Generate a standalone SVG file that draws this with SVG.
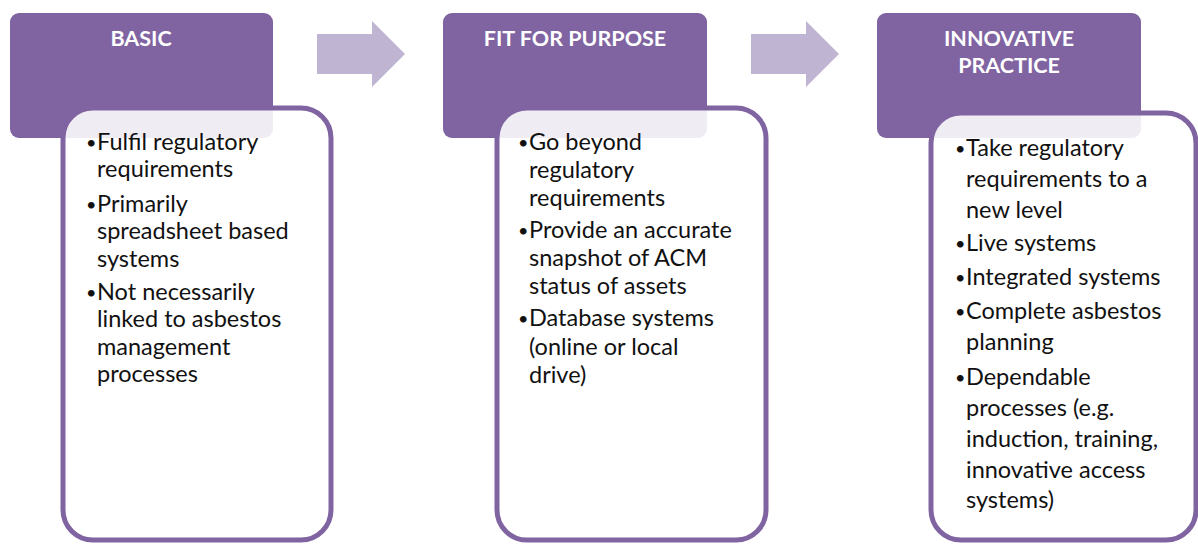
<svg xmlns="http://www.w3.org/2000/svg" width="1198" height="545" viewBox="0 0 1198 545">
<style>
.hdr{fill:#8064A2}
.card{fill:#ffffff;fill-opacity:0.88;stroke:#8064A2;stroke-width:5}
.arrow{fill:#BFB4D1}
.ht{font-family:Lato,"Open Sans",sans-serif;font-weight:bold;font-size:21.5px;fill:#ffffff;text-anchor:middle}
.bt{font-family:Lato,"Open Sans",sans-serif;font-size:23.5px;fill:#111111}
.bu{font-size:18px}
</style>
<rect width="1198" height="545" fill="#ffffff"/>
<g id="connectors">
<polygon class="arrow" points="317,34 372,34 372,21 405,54 372,87 372,74 317,74"/>
<polygon class="arrow" points="751,34 806,34 806,21 839,54 806,87 806,74 751,74"/>
</g>
<g id="basic">
<rect class="hdr" x="10" y="13" width="263" height="125" rx="9"/>
<rect class="card" x="63" y="108" width="268" height="432" rx="30"/>
<text class="ht" x="141" y="46">BASIC</text>
<text class="bt">
<tspan class="bu" x="86" y="149">•</tspan><tspan x="97" y="150">Fulfil regulatory</tspan>
<tspan x="97" y="177">requirements</tspan>
<tspan class="bu" x="86" y="211">•</tspan><tspan x="97" y="212">Primarily</tspan>
<tspan x="97" y="239">spreadsheet based</tspan>
<tspan x="97" y="267">systems</tspan>
<tspan class="bu" x="86" y="299">•</tspan><tspan x="97" y="300">Not necessarily</tspan>
<tspan x="97" y="327">linked to asbestos</tspan>
<tspan x="97" y="355">management</tspan>
<tspan x="97" y="382">processes</tspan>
</text>
</g>
<g id="fit-for-purpose">
<rect class="hdr" x="443" y="13" width="264" height="125" rx="9"/>
<rect class="card" x="497" y="108" width="269" height="432" rx="30"/>
<text class="ht" x="575" y="46">FIT FOR PURPOSE</text>
<text class="bt">
<tspan class="bu" x="518" y="149">•</tspan><tspan x="529" y="150">Go beyond</tspan>
<tspan x="529" y="178">regulatory</tspan>
<tspan x="529" y="206">requirements</tspan>
<tspan class="bu" x="518" y="237">•</tspan><tspan x="529" y="238">Provide an accurate</tspan>
<tspan x="529" y="266">snapshot of ACM</tspan>
<tspan x="529" y="294">status of assets</tspan>
<tspan class="bu" x="518" y="325">•</tspan><tspan x="529" y="326">Database systems</tspan>
<tspan x="529" y="355">(online or local</tspan>
<tspan x="529" y="383">drive)</tspan>
</text>
</g>
<g id="innovative-practice">
<rect class="hdr" x="877" y="13" width="264" height="125" rx="9"/>
<rect class="card" x="931" y="113" width="265" height="427" rx="30"/>
<text class="ht" x="1009" y="46">INNOVATIVE</text>
<text class="ht" x="1009" y="73">PRACTICE</text>
<text class="bt">
<tspan class="bu" x="955" y="155">•</tspan><tspan x="966" y="156">Take regulatory</tspan>
<tspan x="966" y="187">requirements to a</tspan>
<tspan x="966" y="218">new level</tspan>
<tspan class="bu" x="955" y="250">•</tspan><tspan x="966" y="251">Live systems</tspan>
<tspan class="bu" x="955" y="284">•</tspan><tspan x="966" y="285">Integrated systems</tspan>
<tspan class="bu" x="955" y="318">•</tspan><tspan x="966" y="319">Complete asbestos</tspan>
<tspan x="966" y="350">planning</tspan>
<tspan class="bu" x="955" y="384">•</tspan><tspan x="966" y="385">Dependable</tspan>
<tspan x="966" y="416">processes (e.g.</tspan>
<tspan x="966" y="447">induction, training,</tspan>
<tspan x="966" y="478">innovative access</tspan>
<tspan x="966" y="508">systems)</tspan>
</text>
</g>
</svg>
